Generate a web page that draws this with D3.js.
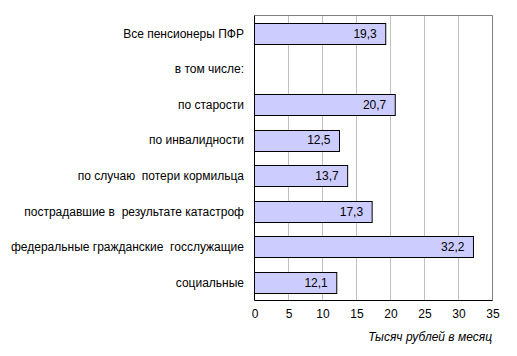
<!DOCTYPE html>
<html><head><meta charset="utf-8">
<script src="https://cdn.jsdelivr.net/npm/d3@7"></script>
<style>
body{margin:0;background:#fff;}
text{font-family:"Liberation Sans",Arial,sans-serif;font-size:12px;fill:#000;white-space:pre;}
</style></head><body>
<svg id="c" width="517" height="356"></svg>
<script>
const categories = ["Все пенсионеры ПФР","в том числе:","по старости","по инвалидности","по случаю  потери кормильца","пострадавшие в  результате катастроф","федеральные гражданские  госслужащие","социальные"];
const values = [19.3, null, 20.7, 12.5, 13.7, 17.3, 32.2, 12.1];
const valueLabels = ["19,3", "", "20,7", "12,5", "13,7", "17,3", "32,2", "12,1"];
const xTicks = [0,5,10,15,20,25,30,35];
const axisTitle = "Тысяч рублей в месяц";

const svg = d3.select("#c");
const m = {left:254.5, right:492.5, top:15.5, bottom:300.5};
const x = d3.scaleLinear().domain([0,35]).range([m.left, m.right]);
const y = d3.scaleBand().domain(d3.range(categories.length)).range([m.top, m.bottom]).paddingInner(0.4).paddingOuter(0.2);

svg.append("g").selectAll("line").data(xTicks.slice(1)).join("line")
  .attr("x1", d=>x(d)).attr("x2", d=>x(d)).attr("y1", m.top).attr("y2", m.bottom)
  .attr("stroke", d=> d===35 ? "#808080" : "#c0c0c0").attr("stroke-width",1);
svg.append("line").attr("x1",m.left).attr("x2",m.right).attr("y1",m.top).attr("y2",m.top).attr("stroke","#808080");

const data = categories.map((c,i)=>({c, v:values[i], l:valueLabels[i], i}));
svg.append("g").selectAll("rect").data(data.filter(d=>d.v!=null)).join("rect")
  .attr("x", x(0)).attr("y", d=>Math.round(y(d.i))+0.5)
  .attr("width", d=>x(d.v)-x(0)).attr("height", Math.round(y.bandwidth()))
  .attr("fill","#ccccff").attr("stroke","#000").attr("stroke-width",1);

svg.append("g").selectAll("text").data(data.filter(d=>d.v!=null)).join("text")
  .attr("x", d=>x(d.v)-9).attr("y", d=>y(d.i)+y.bandwidth()/2)
  .attr("dy","0.35em").attr("text-anchor","end").text(d=>d.l);

svg.append("line").attr("x1",m.left).attr("x2",m.left).attr("y1",m.top).attr("y2",m.bottom).attr("stroke","#000");
svg.append("line").attr("x1",m.left).attr("x2",m.right).attr("y1",m.bottom).attr("y2",m.bottom).attr("stroke","#000");

svg.append("g").selectAll("text").data(data).join("text")
  .attr("x", 244).attr("y", d=>y(d.i)+y.bandwidth()/2)
  .attr("dy","0.35em").attr("text-anchor","end").text(d=>d.c);

const xAxis = d3.axisBottom(x).tickValues(xTicks).tickSize(0).tickPadding(9).tickFormat(d3.format("d"));
const gx = svg.append("g").attr("transform",`translate(0,${m.bottom})`).call(xAxis);
gx.select(".domain").remove();
gx.selectAll("text").style("font-family","'Liberation Sans',Arial,sans-serif").style("font-size","12px").attr("fill","#000");

svg.append("text").attr("x", 492).attr("y", 337).attr("dy","0.35em").attr("text-anchor","end")
  .style("font-style","italic").text(axisTitle);
</script>
</body></html>
